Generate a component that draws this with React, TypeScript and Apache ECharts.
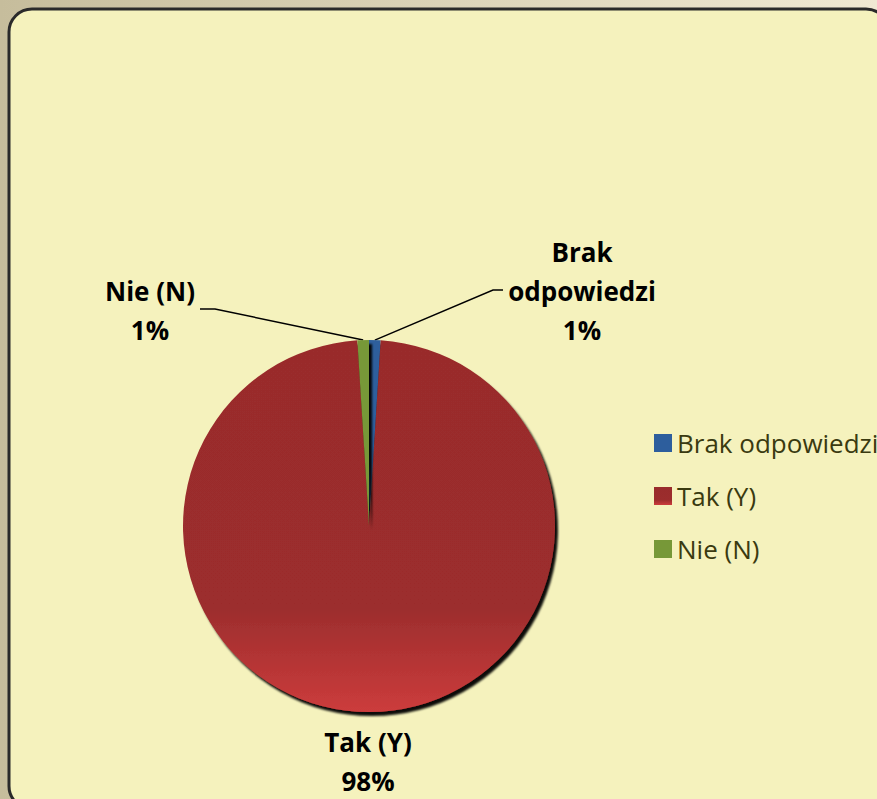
import React, { useEffect, useRef } from "react";
import * as echarts from "echarts";

const categories = ["Brak odpowiedzi", "Tak (Y)", "Nie (N)"];
const values = [1, 98, 1];
const colors = ["#2d5e9d", "#9a2c2c", "#779838"];

// label centres as offsets from the pie centre
const labelOffsets: Record<string, [number, number]> = {
  "Brak odpowiedzi": [213, -235],
  "Tak (Y)": [-1, 235],
  "Nie (N)": [-219, -216],
};

export default function App() {
  const ref = useRef<HTMLDivElement>(null);
  useEffect(() => {
    if (!ref.current) return;
    const chart = echarts.init(ref.current, undefined, { renderer: "svg" });
    const cx = 369;
    const cy = 526;
    const data = categories.map((name, i) => ({
      name,
      value: values[i],
      itemStyle:
        i === 1
          ? {
              color: {
                type: "linear",
                x: 0,
                y: 0,
                x2: 0,
                y2: 1,
                colorStops: [
                  { offset: 0, color: "#992c2c" },
                  { offset: 0.72, color: "#9c2d2d" },
                  { offset: 1, color: "#cc3c3c" },
                ],
              },
            }
          : { color: colors[i] },
    }));
    chart.setOption({
      animation: false,
      backgroundColor: {
        type: "linear",
        x: 0,
        y: 0,
        x2: 1,
        y2: 0,
        colorStops: [
          { offset: 0, color: "#c6bd9c" },
          { offset: 1, color: "#f0e9d3" },
        ],
      },
      graphic: [
        {
          type: "rect",
          shape: { x: 9, y: 9, width: 880, height: 800, r: 23 },
          style: { fill: "#f5f2bd", stroke: "#2a2a2a", lineWidth: 3 },
          z: 0,
        },
      ],
      legend: {
        orient: "vertical",
        left: 649,
        top: 425,
        itemWidth: 18,
        itemHeight: 18,
        itemGap: 27,
        icon: "rect",
        data: categories,
        textStyle: {
          fontFamily: "Open Sans",
          fontSize: 26,
          lineHeight: 24,
          color: "#3a3a10",
        },
      },
      series: [
        {
          type: "pie",
          center: [cx, cy],
          radius: 186,
          startAngle: 90,
          clockwise: true,
          data,
          itemStyle: {
            shadowColor: "rgba(0,0,0,0.95)",
            shadowBlur: 2,
            shadowOffsetX: 3,
            shadowOffsetY: 4,
          },
          label: {
            show: true,
            formatter: (p: any) =>
              (p.name === "Brak odpowiedzi" ? "Brak\nodpowiedzi" : p.name) +
              "\n" +
              Math.round(p.percent) +
              "%",
            fontFamily: "Open Sans",
            fontWeight: "bold",
            fontSize: 26,
            lineHeight: 39,
            color: "#000000",
            align: "center",
          },
          labelLine: {
            show: true,
            lineStyle: { color: "#000000", width: 1.5 },
          },
          labelLayout: (params: any) => {
            const name = categories[params.dataIndex];
            const off = labelOffsets[name];
            const x = cx + off[0];
            const y = cy + off[1];
            const start = params.labelLinePoints
              ? params.labelLinePoints[0]
              : [cx, cy - 186];
            let pts: number[][] | undefined;
            if (name === "Brak odpowiedzi") {
              pts = [start, [493, 290], [503, 290]];
            } else if (name === "Nie (N)") {
              pts = [start, [215, 309], [200, 309]];
            } else {
              pts = [start, start, start];
            }
            return {
              x,
              y,
              align: "center",
              verticalAlign: "middle",
              labelLinePoints: pts,
            };
          },
        },
      ],
    });
    return () => chart.dispose();
  }, []);
  return (
    <div
      ref={ref}
      style={{ position: "fixed", left: 0, top: 0, width: 877, height: 799 }}
    />
  );
}
